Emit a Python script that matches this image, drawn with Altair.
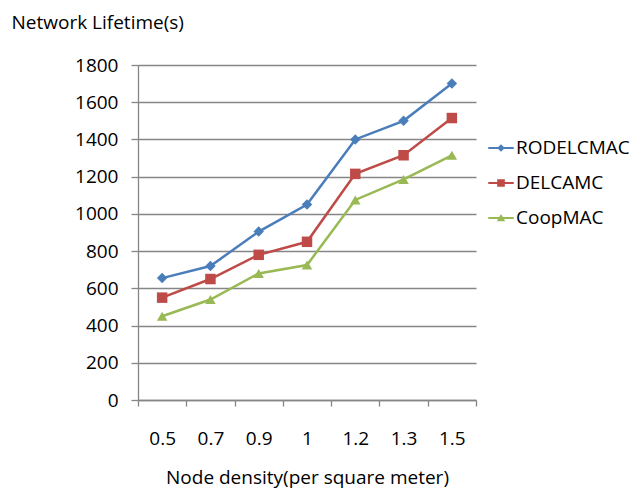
import altair as alt
import pandas as pd

densities = ["0.5", "0.7", "0.9", "1", "1.2", "1.3", "1.5"]
series_names = ["RODELCMAC", "DELCAMC", "CoopMAC"]
rodelcmac = [655, 720, 905, 1050, 1400, 1500, 1700]
delcamc = [550, 650, 780, 850, 1215, 1315, 1515]
coopmac = [450, 540, 680, 725, 1075, 1185, 1315]
colors = ["#4A7EBB", "#BE4B48", "#98B954"]
shapes = ["diamond", "square", "triangle-up"]

rows = []
for name, vals in zip(series_names, [rodelcmac, delcamc, coopmac]):
    for d, v in zip(densities, vals):
        rows.append({"density": d, "lifetime": v, "series": name})
df = pd.DataFrame(rows)

FONT = "Open Sans"

# legend symbols: a line segment with the series marker on it
line_path = "M-1,-0.08H1V0.08H-1Z"
marker_paths = [
    "M0,-0.3L0.3,0L0,0.3L-0.3,0Z",
    "M-0.3,-0.3H0.3V0.3H-0.3Z",
    "M0,-0.32L0.33,0.26H-0.33Z",
]
legend_shapes = [line_path + mp for mp in marker_paths]

legend = alt.Legend(
    title=None,
    orient="none",
    legendX=350,
    legendY=70,
    labelFont=FONT,
    labelFontSize=19,
    labelColor="#000000",
    symbolSize=650,
    symbolStrokeWidth=0,
    rowPadding=12,
    labelOffset=2,
)

color_scale = alt.Scale(domain=series_names, range=colors)

x = alt.X(
    "density:O",
    sort=densities,
    scale=alt.Scale(paddingInner=0, paddingOuter=0),
    axis=alt.Axis(
        title="Node density(per square meter)",
        labelAngle=0,
        tickBand="extent",
        tickSize=6,
        labelPadding=23,
        titlePadding=20,
        grid=False,
    ),
)
y = alt.Y(
    "lifetime:Q",
    scale=alt.Scale(domain=[0, 1800], nice=False),
    axis=alt.Axis(
        values=list(range(0, 1801, 200)),
        format="d",
        title="Network Lifetime(s)",
        titleAngle=0,
        titleAlign="left",
        titleBaseline="alphabetic",
        titleX=-127,
        titleY=-37,
        tickSize=7,
        labelPadding=13,
        grid=True,
    ),
)

lines = alt.Chart(df).mark_line(strokeWidth=2.5).encode(
    x=x, y=y, color=alt.Color("series:N", scale=color_scale, legend=None), detail="series:N"
)
points = alt.Chart(df).mark_point(filled=True, opacity=1, size=110).encode(
    x=x,
    y=y,
    color=alt.Color("series:N", scale=color_scale, legend=None),
    shape=alt.Shape("series:N", scale=alt.Scale(domain=series_names, range=shapes), legend=None),
)
legend_layer = (
    alt.Chart(df)
    .transform_filter("false")
    .mark_point(filled=True, opacity=1)
    .encode(
        x=x,
        y=y,
        color=alt.Color("series:N", scale=alt.Scale(domain=series_names, range=colors), legend=legend),
        shape=alt.Shape(
            "series:N",
            scale=alt.Scale(domain=series_names, range=legend_shapes),
            legend=legend,
        ),
    )
)

chart = (
    alt.layer(lines, points, legend_layer)
    .resolve_scale(shape="independent", color="independent")
    .properties(
        width=338,
        height=335,
        autosize=alt.AutoSizeParams(type="none"),
        padding={"left": 138, "top": 65, "right": 157, "bottom": 91},
        background="#ffffff",
    )
    .configure_view(stroke=None)
    .configure_axis(
        labelFont=FONT,
        titleFont=FONT,
        labelFontSize=19,
        titleFontSize=19,
        titleFontWeight="normal",
        labelColor="#000000",
        titleColor="#000000",
        domainColor="#868686",
        tickColor="#868686",
        gridColor="#868686",
        domainWidth=1.3,
        tickWidth=1.3,
        gridWidth=1.3,
    )
)

chart.save("out.html", embed_options={"renderer": "svg", "actions": False})
